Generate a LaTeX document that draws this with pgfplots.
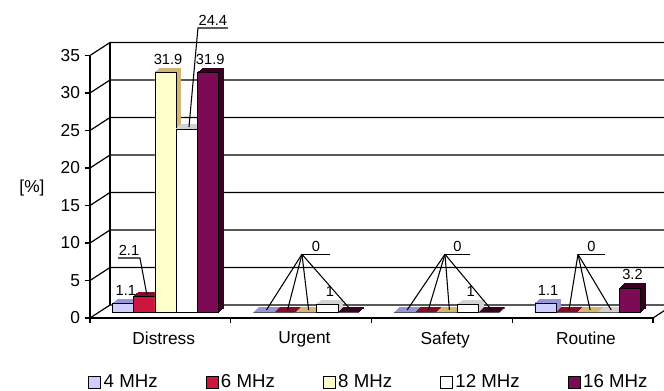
\documentclass[border=0pt]{standalone}
\usepackage{fontspec}
\setmainfont{Liberation Sans}
\usepackage{pgfplots}
\usepackage{pgfplotstable}
\pgfplotsset{compat=1.18}

% face / side colours of the five frequency series
\definecolor{fA}{RGB}{206,206,255}\definecolor{sA}{RGB}{150,150,215}
\definecolor{fB}{RGB}{204,22,62}  \definecolor{sB}{RGB}{135,10,40}
\definecolor{fC}{RGB}{255,255,204}\definecolor{sC}{RGB}{212,182,112}
\definecolor{fD}{RGB}{255,255,255}\definecolor{sD}{RGB}{210,210,210}
\definecolor{fE}{RGB}{125,10,85}  \definecolor{sE}{RGB}{58,0,36}

\tikzset{
  wall/.style={black, line width=0.9pt},
  lead/.style={black, line width=0.8pt},
  lbl/.style={font=\fontsize{11}{13}\selectfont, anchor=south, inner sep=1.5pt},
}

% share of calls [%] per category; s* = 1 where the value is printed on top of the bar
\pgfplotstableread{
x  f4   f6   f8    f12   f16   s4 s6 s8 s12 s16
0  1.1  2.1  31.9  24.4  31.9  1  0  1  0   1
1  0    0    0     1     0     0  0  0  1   0
2  0    0    0     1     0     0  0  0  1   0
3  1.1  0    0     0     3.2   1  0  0  0   1
}\freqdata

% a bar with depth: a stack of shifted copies for the side/top, then the front face,
% then the printed values
\newcommand{\solidbar}[5]{%
  \pgfplotsinvokeforeach{1,2,3,4,5}{%
    \addplot[forget plot, ybar, bar width=0.15, bar shift=#5,
      fill=#4, draw=#4, line width=0.8pt,
      shift={({3.75pt+0.75pt*##1},{4.5pt+0.6pt*##1})}]
      table[x=x, y=#1] {\freqdata};
  }
  \addplot[forget plot, ybar, bar width=0.15, bar shift=#5,
    fill=#3, draw=black, line width=0.4pt, shift={(3.75pt,4.5pt)}]
    table[x=x, y=#1] {\freqdata};
  \addplot[forget plot, only marks, mark=*, mark size=0pt, draw=none, fill=none,
    shift={(3.75pt,4.5pt)},
    restrict expr to domain={\thisrow{#2}}{0.5:1.5},
    nodes near coords,
    every node near coord/.append style={font=\fontsize{11}{13}\selectfont,
      anchor=south, xshift=2pt, yshift=2.5pt, text=black}]
    table[x expr=\thisrow{x}+#5, y=#1] {\freqdata};
}

\begin{document}
\begin{tikzpicture}
\begin{axis}[
  scale only axis,
  width=422.25pt, height=196.875pt,
  xmin=-0.5, xmax=3.5, ymin=0, ymax=35,
  clip=false,
  axis x line*=bottom, axis y line*=left,
  axis line style={black, line width=0.9pt},
  /pgf/number format/assume math mode=true,
  ytick={0,5,...,35},
  tick align=outside,
  major tick length=4pt,
  ytick style={black, line width=0.9pt},
  yticklabel style={font=\fontsize{13}{15}\selectfont},
  xtick={0,1,2,3},
  xticklabels={Distress,Urgent,Safety,Routine},
  xtick style={draw=none},
  xticklabel style={font=\fontsize{13}{15}\selectfont, xshift=2.5pt, yshift=-3pt},
  extra x ticks={-0.5,0.5,1.5,2.5,3.5},
  extra x tick labels={},
  extra x tick style={xtick style={draw=black, line width=0.9pt}},
  ylabel={[\%]},
  every axis y label/.style={at={(axis description cs:-0.103,0.495)},
    anchor=center, font=\fontsize{13}{15}\selectfont},
  legend columns=5,
  legend style={at={(axis description cs:0.496,-0.244)}, anchor=center,
    draw=none, fill=none, font=\fontsize{14}{16}\selectfont,
    /tikz/every even column/.append style={column sep=34pt},
    /tikz/every odd column/.append style={column sep=0pt}},
  legend image code/.code={\draw[#1, draw=black, line width=0.5pt] (0pt,-4.5pt) rectangle (9pt,4.5pt);},
]
% side wall, back wall and floor
\pgfplotsinvokeforeach{0,5,...,35}{%
  \draw[wall] (axis cs:-0.5,#1) -- ++(15pt,9.75pt) -- ([shift={(15pt,9.75pt)}]axis cs:3.5,#1);
}
\draw[wall] ([shift={(15pt,9.75pt)}]axis cs:-0.5,0) -- ([shift={(15pt,9.75pt)}]axis cs:-0.5,35);
\draw[wall] (axis cs:3.5,0) -- ++(15pt,9.75pt);

\solidbar{f4}{s4}{fA}{sA}{-0.3}
\solidbar{f6}{s6}{fB}{sB}{-0.15}
\solidbar{f8}{s8}{fC}{sC}{0}
\solidbar{f12}{s12}{fD}{sD}{0.15}
\solidbar{f16}{s16}{fE}{sE}{0.3}

\addlegendimage{fill=fA}\addlegendentry{4 MHz}
\addlegendimage{fill=fB}\addlegendentry{6 MHz}
\addlegendimage{fill=fC}\addlegendentry{8 MHz}
\addlegendimage{fill=fD}\addlegendentry{12 MHz}
\addlegendimage{fill=fE}\addlegendentry{16 MHz}

% value labels with leader lines
\draw[lead] ([shift={(5.625pt,6pt)}]axis cs:-0.15,2.1) -- (axis cs:-0.145,8.0) -- (axis cs:-0.301,8.0);
\node[lbl] at (axis cs:-0.223,8.0) {2.1};
\draw[lead] ([shift={(5.625pt,6pt)}]axis cs:0.15,24.4) -- (axis cs:0.267,38.67) -- (axis cs:0.48,38.67);
\node[lbl] at (axis cs:0.373,38.67) {24.4};

\pgfplotsinvokeforeach{0.7,0.85,1,1.3}{\draw[lead] ([shift={(5.625pt,6pt)}]axis cs:#1,0) -- (axis cs:1.006,8.5);}
\draw[lead] (axis cs:1.006,8.5) -- (axis cs:1.205,8.5);
\node[lbl] at (axis cs:1.105,8.5) {0};

\pgfplotsinvokeforeach{1.7,1.85,2,2.3}{\draw[lead] ([shift={(5.625pt,6pt)}]axis cs:#1,0) -- (axis cs:2.022,8.5);}
\draw[lead] (axis cs:2.022,8.5) -- (axis cs:2.2,8.5);
\node[lbl] at (axis cs:2.111,8.5) {0};

\pgfplotsinvokeforeach{2.85,3,3.15}{\draw[lead] ([shift={(5.625pt,6pt)}]axis cs:#1,0) -- (axis cs:2.967,8.5);}
\draw[lead] (axis cs:2.967,8.5) -- (axis cs:3.159,8.5);
\node[lbl] at (axis cs:3.063,8.5) {0};
\end{axis}
\pgfresetboundingbox
\path[use as bounding box] (-67.5pt,-54pt) rectangle (430.5pt,238.5pt);
\end{tikzpicture}
\end{document}
